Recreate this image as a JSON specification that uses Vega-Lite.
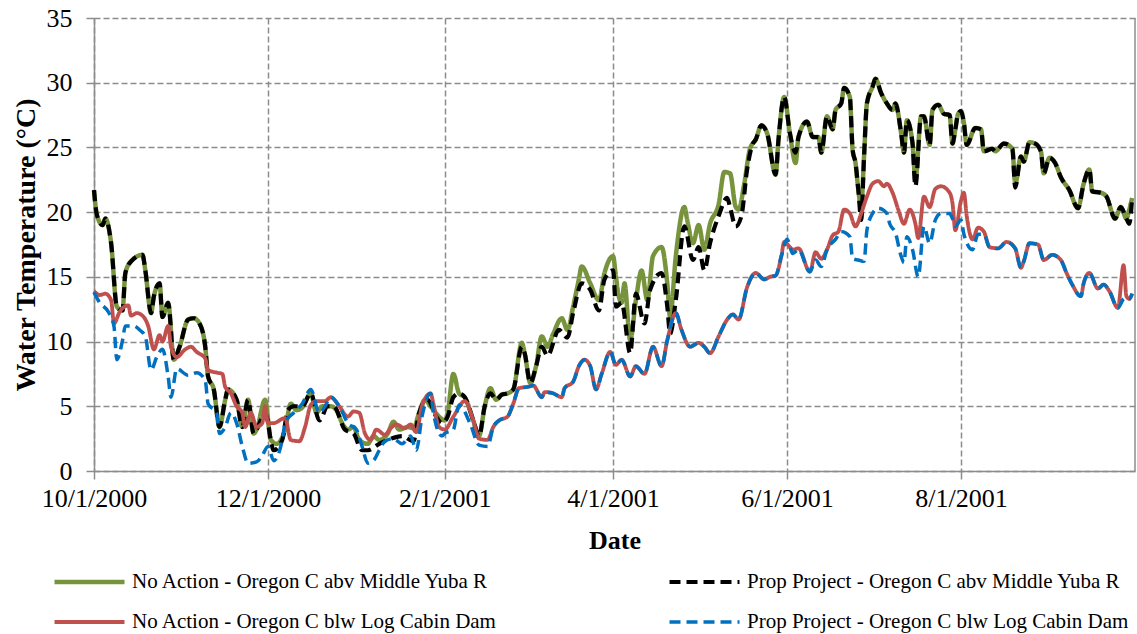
{
  "$schema": "https://vega.github.io/schema/vega-lite/v6.json",
  "width": 1041,
  "height": 453,
  "autosize": "none",
  "padding": {"left": 94, "top": 18, "right": 2, "bottom": 163},
  "background": "white",
  "config": {
    "view": {"stroke": null},
    "font": "Liberation Serif"
  },
  "layer": [
    {
      "data": {
        "values": [
          {"date":"2000-10-01","series":"A","temp":21.7},{"date":"2000-10-02","series":"A","temp":19.8},{"date":"2000-10-04","series":"A","temp":19.0},{"date":"2000-10-05","series":"A","temp":19.5},{"date":"2000-10-07","series":"A","temp":17.6},{"date":"2000-10-09","series":"A","temp":12.7},{"date":"2000-10-11","series":"A","temp":12.4},{"date":"2000-10-12","series":"A","temp":15.3},{"date":"2000-10-14","series":"A","temp":16.2},{"date":"2000-10-18","series":"A","temp":16.7},{"date":"2000-10-19","series":"A","temp":15.5},{"date":"2000-10-21","series":"A","temp":12.2},{"date":"2000-10-22","series":"A","temp":13.5},{"date":"2000-10-24","series":"A","temp":14.5},{"date":"2000-10-25","series":"A","temp":11.9},{"date":"2000-10-27","series":"A","temp":13.0},{"date":"2000-10-29","series":"A","temp":8.6},{"date":"2000-10-31","series":"A","temp":9.6},{"date":"2000-11-03","series":"A","temp":11.7},{"date":"2000-11-05","series":"A","temp":11.8},{"date":"2000-11-07","series":"A","temp":11.4},{"date":"2000-11-09","series":"A","temp":9.6},{"date":"2000-11-10","series":"A","temp":7.3},{"date":"2000-11-12","series":"A","temp":6.3},{"date":"2000-11-14","series":"A","temp":3.4},{"date":"2000-11-16","series":"A","temp":5.5},{"date":"2000-11-17","series":"A","temp":6.3},{"date":"2000-11-20","series":"A","temp":5.5},{"date":"2000-11-22","series":"A","temp":3.4},{"date":"2000-11-24","series":"A","temp":5.5},{"date":"2000-11-26","series":"A","temp":2.9},{"date":"2000-11-27","series":"A","temp":3.2},{"date":"2000-11-30","series":"A","temp":5.5},{"date":"2000-12-02","series":"A","temp":2.4},{"date":"2000-12-04","series":"A","temp":2.1},{"date":"2000-12-07","series":"A","temp":3.2},{"date":"2000-12-09","series":"A","temp":5.2},{"date":"2000-12-11","series":"A","temp":4.7},{"date":"2000-12-13","series":"A","temp":4.9},{"date":"2000-12-16","series":"A","temp":6.0},{"date":"2000-12-18","series":"A","temp":4.5},{"date":"2000-12-20","series":"A","temp":5.0},{"date":"2000-12-23","series":"A","temp":5.0},{"date":"2000-12-25","series":"A","temp":4.7},{"date":"2000-12-27","series":"A","temp":3.7},{"date":"2000-12-29","series":"A","temp":3.2},{"date":"2000-12-31","series":"A","temp":3.4},{"date":"2001-01-02","series":"A","temp":2.4},{"date":"2001-01-05","series":"A","temp":2.1},{"date":"2001-01-07","series":"A","temp":2.7},{"date":"2001-01-09","series":"A","temp":2.4},{"date":"2001-01-12","series":"A","temp":2.9},{"date":"2001-01-14","series":"A","temp":3.8},{"date":"2001-01-16","series":"A","temp":3.2},{"date":"2001-01-19","series":"A","temp":3.4},{"date":"2001-01-21","series":"A","temp":3.3},{"date":"2001-01-23","series":"A","temp":4.5},{"date":"2001-01-25","series":"A","temp":5.5},{"date":"2001-01-27","series":"A","temp":5.0},{"date":"2001-01-30","series":"A","temp":4.2},{"date":"2001-02-01","series":"A","temp":3.9},{"date":"2001-02-02","series":"A","temp":4.5},{"date":"2001-02-04","series":"A","temp":7.5},{"date":"2001-02-06","series":"A","temp":6.0},{"date":"2001-02-08","series":"A","temp":5.7},{"date":"2001-02-11","series":"A","temp":3.9},{"date":"2001-02-13","series":"A","temp":2.7},{"date":"2001-02-15","series":"A","temp":5.0},{"date":"2001-02-17","series":"A","temp":6.4},{"date":"2001-02-19","series":"A","temp":5.5},{"date":"2001-02-21","series":"A","temp":5.9},{"date":"2001-02-23","series":"A","temp":6.0},{"date":"2001-02-25","series":"A","temp":6.3},{"date":"2001-02-28","series":"A","temp":9.9},{"date":"2001-03-01","series":"A","temp":9.1},{"date":"2001-03-03","series":"A","temp":6.8},{"date":"2001-03-05","series":"A","temp":8.1},{"date":"2001-03-07","series":"A","temp":10.4},{"date":"2001-03-09","series":"A","temp":9.6},{"date":"2001-03-11","series":"A","temp":10.6},{"date":"2001-03-14","series":"A","temp":11.8},{"date":"2001-03-16","series":"A","temp":10.9},{"date":"2001-03-18","series":"A","temp":12.7},{"date":"2001-03-20","series":"A","temp":14.8},{"date":"2001-03-21","series":"A","temp":15.8},{"date":"2001-03-24","series":"A","temp":14.5},{"date":"2001-03-27","series":"A","temp":13.2},{"date":"2001-03-29","series":"A","temp":15.3},{"date":"2001-04-01","series":"A","temp":16.6},{"date":"2001-04-02","series":"A","temp":15.0},{"date":"2001-04-03","series":"A","temp":13.5},{"date":"2001-04-04","series":"A","temp":13.0},{"date":"2001-04-05","series":"A","temp":14.5},{"date":"2001-04-07","series":"A","temp":10.1},{"date":"2001-04-09","series":"A","temp":13.2},{"date":"2001-04-11","series":"A","temp":15.5},{"date":"2001-04-13","series":"A","temp":13.2},{"date":"2001-04-15","series":"A","temp":16.6},{"date":"2001-04-18","series":"A","temp":17.3},{"date":"2001-04-20","series":"A","temp":14.5},{"date":"2001-04-21","series":"A","temp":11.9},{"date":"2001-04-23","series":"A","temp":16.6},{"date":"2001-04-26","series":"A","temp":20.4},{"date":"2001-04-27","series":"A","temp":19.4},{"date":"2001-04-29","series":"A","temp":17.6},{"date":"2001-05-01","series":"A","temp":19.0},{"date":"2001-05-03","series":"A","temp":17.1},{"date":"2001-05-05","series":"A","temp":19.1},{"date":"2001-05-08","series":"A","temp":20.6},{"date":"2001-05-10","series":"A","temp":23.1},{"date":"2001-05-12","series":"A","temp":23.0},{"date":"2001-05-14","series":"A","temp":20.4},{"date":"2001-05-15","series":"A","temp":20.2},{"date":"2001-05-17","series":"A","temp":22.2},{"date":"2001-05-19","series":"A","temp":24.9},{"date":"2001-05-21","series":"A","temp":25.6},{"date":"2001-05-23","series":"A","temp":26.7},{"date":"2001-05-25","series":"A","temp":26.1},{"date":"2001-05-28","series":"A","temp":22.9},{"date":"2001-05-29","series":"A","temp":25.6},{"date":"2001-05-31","series":"A","temp":28.9},{"date":"2001-06-02","series":"A","temp":26.1},{"date":"2001-06-04","series":"A","temp":23.8},{"date":"2001-06-05","series":"A","temp":25.8},{"date":"2001-06-08","series":"A","temp":27.0},{"date":"2001-06-10","series":"A","temp":25.8},{"date":"2001-06-12","series":"A","temp":25.8},{"date":"2001-06-13","series":"A","temp":24.6},{"date":"2001-06-15","series":"A","temp":27.4},{"date":"2001-06-17","series":"A","temp":26.4},{"date":"2001-06-18","series":"A","temp":27.9},{"date":"2001-06-20","series":"A","temp":28.4},{"date":"2001-06-21","series":"A","temp":29.6},{"date":"2001-06-23","series":"A","temp":28.9},{"date":"2001-06-24","series":"A","temp":24.8},{"date":"2001-06-25","series":"A","temp":23.8},{"date":"2001-06-26","series":"A","temp":21.7},{"date":"2001-06-27","series":"A","temp":20.4},{"date":"2001-06-28","series":"A","temp":24.3},{"date":"2001-06-29","series":"A","temp":28.4},{"date":"2001-07-01","series":"A","temp":29.7},{"date":"2001-07-02","series":"A","temp":30.3},{"date":"2001-07-04","series":"A","temp":29.2},{"date":"2001-07-06","series":"A","temp":28.4},{"date":"2001-07-08","series":"A","temp":27.9},{"date":"2001-07-09","series":"A","temp":28.4},{"date":"2001-07-11","series":"A","temp":26.1},{"date":"2001-07-12","series":"A","temp":24.6},{"date":"2001-07-13","series":"A","temp":27.1},{"date":"2001-07-15","series":"A","temp":25.3},{"date":"2001-07-16","series":"A","temp":22.5},{"date":"2001-07-18","series":"A","temp":27.4},{"date":"2001-07-19","series":"A","temp":27.4},{"date":"2001-07-21","series":"A","temp":25.2},{"date":"2001-07-22","series":"A","temp":27.9},{"date":"2001-07-24","series":"A","temp":28.3},{"date":"2001-07-26","series":"A","temp":27.6},{"date":"2001-07-28","series":"A","temp":27.5},{"date":"2001-07-29","series":"A","temp":25.3},{"date":"2001-07-30","series":"A","temp":26.4},{"date":"2001-07-31","series":"A","temp":27.6},{"date":"2001-08-01","series":"A","temp":27.8},{"date":"2001-08-02","series":"A","temp":26.9},{"date":"2001-08-03","series":"A","temp":25.2},{"date":"2001-08-06","series":"A","temp":26.5},{"date":"2001-08-08","series":"A","temp":26.4},{"date":"2001-08-09","series":"A","temp":24.7},{"date":"2001-08-12","series":"A","temp":24.9},{"date":"2001-08-13","series":"A","temp":24.7},{"date":"2001-08-16","series":"A","temp":25.3},{"date":"2001-08-19","series":"A","temp":24.9},{"date":"2001-08-20","series":"A","temp":22.2},{"date":"2001-08-22","series":"A","temp":24.3},{"date":"2001-08-23","series":"A","temp":23.9},{"date":"2001-08-25","series":"A","temp":25.4},{"date":"2001-08-27","series":"A","temp":25.3},{"date":"2001-08-29","series":"A","temp":24.7},{"date":"2001-08-30","series":"A","temp":23.0},{"date":"2001-09-01","series":"A","temp":24.2},{"date":"2001-09-03","series":"A","temp":23.8},{"date":"2001-09-05","series":"A","temp":22.7},{"date":"2001-09-08","series":"A","temp":21.7},{"date":"2001-09-11","series":"A","temp":20.3},{"date":"2001-09-13","series":"A","temp":22.2},{"date":"2001-09-15","series":"A","temp":23.3},{"date":"2001-09-16","series":"A","temp":21.6},{"date":"2001-09-19","series":"A","temp":21.5},{"date":"2001-09-21","series":"A","temp":21.2},{"date":"2001-09-24","series":"A","temp":19.5},{"date":"2001-09-26","series":"A","temp":20.4},{"date":"2001-09-28","series":"A","temp":19.5},{"date":"2001-09-29","series":"A","temp":20.2},{"date":"2001-09-30","series":"A","temp":21.1},

          {"date":"2000-10-01","series":"B","temp":21.7},{"date":"2000-10-02","series":"B","temp":19.8},{"date":"2000-10-04","series":"B","temp":19.0},{"date":"2000-10-05","series":"B","temp":19.5},{"date":"2000-10-07","series":"B","temp":17.6},{"date":"2000-10-09","series":"B","temp":12.7},{"date":"2000-10-11","series":"B","temp":12.4},{"date":"2000-10-12","series":"B","temp":15.3},{"date":"2000-10-14","series":"B","temp":16.2},{"date":"2000-10-18","series":"B","temp":16.7},{"date":"2000-10-19","series":"B","temp":15.5},{"date":"2000-10-21","series":"B","temp":12.2},{"date":"2000-10-22","series":"B","temp":13.5},{"date":"2000-10-24","series":"B","temp":14.5},{"date":"2000-10-25","series":"B","temp":11.9},{"date":"2000-10-27","series":"B","temp":13.0},{"date":"2000-10-29","series":"B","temp":8.6},{"date":"2000-10-31","series":"B","temp":9.6},{"date":"2000-11-03","series":"B","temp":11.7},{"date":"2000-11-05","series":"B","temp":11.8},{"date":"2000-11-07","series":"B","temp":11.4},{"date":"2000-11-09","series":"B","temp":9.6},{"date":"2000-11-10","series":"B","temp":7.3},{"date":"2000-11-12","series":"B","temp":6.3},{"date":"2000-11-14","series":"B","temp":3.4},{"date":"2000-11-16","series":"B","temp":5.5},{"date":"2000-11-17","series":"B","temp":6.3},{"date":"2000-11-20","series":"B","temp":5.5},{"date":"2000-11-22","series":"B","temp":3.4},{"date":"2000-11-24","series":"B","temp":5.5},{"date":"2000-11-26","series":"B","temp":2.9},{"date":"2000-11-27","series":"B","temp":3.2},{"date":"2000-11-30","series":"B","temp":4.5},{"date":"2000-12-03","series":"B","temp":1.6},{"date":"2000-12-06","series":"B","temp":2.4},{"date":"2000-12-08","series":"B","temp":4.7},{"date":"2000-12-10","series":"B","temp":5.0},{"date":"2000-12-13","series":"B","temp":5.0},{"date":"2000-12-16","series":"B","temp":6.0},{"date":"2000-12-19","series":"B","temp":3.9},{"date":"2000-12-22","series":"B","temp":5.0},{"date":"2000-12-24","series":"B","temp":5.0},{"date":"2000-12-28","series":"B","temp":3.2},{"date":"2000-12-31","series":"B","temp":2.9},{"date":"2001-01-03","series":"B","temp":1.6},{"date":"2001-01-05","series":"B","temp":1.6},{"date":"2001-01-09","series":"B","temp":2.1},{"date":"2001-01-12","series":"B","temp":2.4},{"date":"2001-01-17","series":"B","temp":2.7},{"date":"2001-01-21","series":"B","temp":2.3},{"date":"2001-01-23","series":"B","temp":4.5},{"date":"2001-01-26","series":"B","temp":5.5},{"date":"2001-01-29","series":"B","temp":4.2},{"date":"2001-01-31","series":"B","temp":3.7},{"date":"2001-02-02","series":"B","temp":4.2},{"date":"2001-02-04","series":"B","temp":5.7},{"date":"2001-02-06","series":"B","temp":6.0},{"date":"2001-02-08","series":"B","temp":5.7},{"date":"2001-02-11","series":"B","temp":3.9},{"date":"2001-02-13","series":"B","temp":2.7},{"date":"2001-02-15","series":"B","temp":5.0},{"date":"2001-02-17","series":"B","temp":6.0},{"date":"2001-02-19","series":"B","temp":5.5},{"date":"2001-02-21","series":"B","temp":5.9},{"date":"2001-02-23","series":"B","temp":6.0},{"date":"2001-02-25","series":"B","temp":6.3},{"date":"2001-02-28","series":"B","temp":9.6},{"date":"2001-03-01","series":"B","temp":9.1},{"date":"2001-03-03","series":"B","temp":6.8},{"date":"2001-03-05","series":"B","temp":8.1},{"date":"2001-03-07","series":"B","temp":9.6},{"date":"2001-03-09","series":"B","temp":8.9},{"date":"2001-03-13","series":"B","temp":10.9},{"date":"2001-03-16","series":"B","temp":10.3},{"date":"2001-03-18","series":"B","temp":12.2},{"date":"2001-03-21","series":"B","temp":14.5},{"date":"2001-03-24","series":"B","temp":14.0},{"date":"2001-03-27","series":"B","temp":12.4},{"date":"2001-03-29","series":"B","temp":14.8},{"date":"2001-04-01","series":"B","temp":15.5},{"date":"2001-04-02","series":"B","temp":12.7},{"date":"2001-04-04","series":"B","temp":13.0},{"date":"2001-04-07","series":"B","temp":9.1},{"date":"2001-04-09","series":"B","temp":13.7},{"date":"2001-04-12","series":"B","temp":11.4},{"date":"2001-04-14","series":"B","temp":14.0},{"date":"2001-04-18","series":"B","temp":15.3},{"date":"2001-04-20","series":"B","temp":12.7},{"date":"2001-04-21","series":"B","temp":10.6},{"date":"2001-04-23","series":"B","temp":13.2},{"date":"2001-04-26","series":"B","temp":18.9},{"date":"2001-04-29","series":"B","temp":16.3},{"date":"2001-05-01","series":"B","temp":17.3},{"date":"2001-05-03","series":"B","temp":15.5},{"date":"2001-05-05","series":"B","temp":17.6},{"date":"2001-05-08","series":"B","temp":19.7},{"date":"2001-05-11","series":"B","temp":21.1},{"date":"2001-05-12","series":"B","temp":20.4},{"date":"2001-05-14","series":"B","temp":18.9},{"date":"2001-05-16","series":"B","temp":19.7},{"date":"2001-05-18","series":"B","temp":23.3},{"date":"2001-05-20","series":"B","temp":25.3},{"date":"2001-05-21","series":"B","temp":25.6},{"date":"2001-05-23","series":"B","temp":26.7},{"date":"2001-05-25","series":"B","temp":26.1},{"date":"2001-05-28","series":"B","temp":22.9},{"date":"2001-05-29","series":"B","temp":25.6},{"date":"2001-05-31","series":"B","temp":28.9},{"date":"2001-06-02","series":"B","temp":26.1},{"date":"2001-06-04","series":"B","temp":24.6},{"date":"2001-06-05","series":"B","temp":25.8},{"date":"2001-06-08","series":"B","temp":27.0},{"date":"2001-06-10","series":"B","temp":25.8},{"date":"2001-06-12","series":"B","temp":25.8},{"date":"2001-06-13","series":"B","temp":24.6},{"date":"2001-06-15","series":"B","temp":27.4},{"date":"2001-06-17","series":"B","temp":26.4},{"date":"2001-06-18","series":"B","temp":27.9},{"date":"2001-06-20","series":"B","temp":28.4},{"date":"2001-06-21","series":"B","temp":29.6},{"date":"2001-06-23","series":"B","temp":28.9},{"date":"2001-06-24","series":"B","temp":24.8},{"date":"2001-06-25","series":"B","temp":23.8},{"date":"2001-06-26","series":"B","temp":21.7},{"date":"2001-06-27","series":"B","temp":19.4},{"date":"2001-06-28","series":"B","temp":24.3},{"date":"2001-06-29","series":"B","temp":28.4},{"date":"2001-07-01","series":"B","temp":29.7},{"date":"2001-07-02","series":"B","temp":30.3},{"date":"2001-07-04","series":"B","temp":29.2},{"date":"2001-07-06","series":"B","temp":28.4},{"date":"2001-07-08","series":"B","temp":27.9},{"date":"2001-07-09","series":"B","temp":28.4},{"date":"2001-07-11","series":"B","temp":26.1},{"date":"2001-07-12","series":"B","temp":24.6},{"date":"2001-07-13","series":"B","temp":27.1},{"date":"2001-07-15","series":"B","temp":25.3},{"date":"2001-07-16","series":"B","temp":22.0},{"date":"2001-07-18","series":"B","temp":27.4},{"date":"2001-07-19","series":"B","temp":27.4},{"date":"2001-07-21","series":"B","temp":25.2},{"date":"2001-07-22","series":"B","temp":27.9},{"date":"2001-07-24","series":"B","temp":28.3},{"date":"2001-07-26","series":"B","temp":27.6},{"date":"2001-07-28","series":"B","temp":27.5},{"date":"2001-07-29","series":"B","temp":25.3},{"date":"2001-07-30","series":"B","temp":26.4},{"date":"2001-07-31","series":"B","temp":27.6},{"date":"2001-08-01","series":"B","temp":27.8},{"date":"2001-08-02","series":"B","temp":26.9},{"date":"2001-08-03","series":"B","temp":25.2},{"date":"2001-08-06","series":"B","temp":26.5},{"date":"2001-08-08","series":"B","temp":26.4},{"date":"2001-08-09","series":"B","temp":24.7},{"date":"2001-08-12","series":"B","temp":24.9},{"date":"2001-08-13","series":"B","temp":24.7},{"date":"2001-08-16","series":"B","temp":25.3},{"date":"2001-08-19","series":"B","temp":24.9},{"date":"2001-08-20","series":"B","temp":21.9},{"date":"2001-08-22","series":"B","temp":24.3},{"date":"2001-08-23","series":"B","temp":23.9},{"date":"2001-08-25","series":"B","temp":25.4},{"date":"2001-08-27","series":"B","temp":25.3},{"date":"2001-08-29","series":"B","temp":24.7},{"date":"2001-08-30","series":"B","temp":23.0},{"date":"2001-09-01","series":"B","temp":24.2},{"date":"2001-09-03","series":"B","temp":23.8},{"date":"2001-09-05","series":"B","temp":22.7},{"date":"2001-09-08","series":"B","temp":21.7},{"date":"2001-09-11","series":"B","temp":20.3},{"date":"2001-09-13","series":"B","temp":22.2},{"date":"2001-09-15","series":"B","temp":23.3},{"date":"2001-09-16","series":"B","temp":21.6},{"date":"2001-09-19","series":"B","temp":21.5},{"date":"2001-09-21","series":"B","temp":21.2},{"date":"2001-09-24","series":"B","temp":19.5},{"date":"2001-09-26","series":"B","temp":20.4},{"date":"2001-09-28","series":"B","temp":19.5},{"date":"2001-09-29","series":"B","temp":19.1},{"date":"2001-09-30","series":"B","temp":21.1},

          {"date":"2000-10-01","series":"C","temp":13.9},{"date":"2000-10-03","series":"C","temp":13.6},{"date":"2000-10-05","series":"C","temp":13.7},{"date":"2000-10-07","series":"C","temp":13.2},{"date":"2000-10-08","series":"C","temp":11.4},{"date":"2000-10-10","series":"C","temp":12.3},{"date":"2000-10-13","series":"C","temp":12.8},{"date":"2000-10-14","series":"C","temp":12.0},{"date":"2000-10-16","series":"C","temp":12.2},{"date":"2000-10-18","series":"C","temp":12.0},{"date":"2000-10-20","series":"C","temp":11.2},{"date":"2000-10-22","series":"C","temp":9.4},{"date":"2000-10-24","series":"C","temp":10.5},{"date":"2000-10-25","series":"C","temp":10.0},{"date":"2000-10-27","series":"C","temp":11.2},{"date":"2000-10-28","series":"C","temp":9.6},{"date":"2000-10-30","series":"C","temp":8.8},{"date":"2000-11-02","series":"C","temp":9.4},{"date":"2000-11-04","series":"C","temp":9.6},{"date":"2000-11-06","series":"C","temp":9.2},{"date":"2000-11-09","series":"C","temp":8.7},{"date":"2000-11-10","series":"C","temp":7.8},{"date":"2000-11-13","series":"C","temp":7.6},{"date":"2000-11-15","series":"C","temp":7.5},{"date":"2000-11-16","series":"C","temp":6.5},{"date":"2000-11-18","series":"C","temp":6.0},{"date":"2000-11-20","series":"C","temp":5.0},{"date":"2000-11-22","series":"C","temp":4.5},{"date":"2000-11-23","series":"C","temp":3.4},{"date":"2000-11-25","series":"C","temp":4.5},{"date":"2000-11-27","series":"C","temp":3.4},{"date":"2000-11-29","series":"C","temp":3.7},{"date":"2000-11-30","series":"C","temp":5.0},{"date":"2000-12-01","series":"C","temp":3.7},{"date":"2000-12-03","series":"C","temp":3.7},{"date":"2000-12-07","series":"C","temp":4.1},{"date":"2000-12-09","series":"C","temp":2.4},{"date":"2000-12-12","series":"C","temp":2.3},{"date":"2000-12-14","series":"C","temp":3.4},{"date":"2000-12-16","series":"C","temp":5.1},{"date":"2000-12-18","series":"C","temp":5.4},{"date":"2000-12-21","series":"C","temp":5.4},{"date":"2000-12-23","series":"C","temp":5.7},{"date":"2000-12-26","series":"C","temp":5.0},{"date":"2000-12-29","series":"C","temp":4.2},{"date":"2000-12-31","series":"C","temp":4.6},{"date":"2001-01-02","series":"C","temp":4.5},{"date":"2001-01-04","series":"C","temp":2.9},{"date":"2001-01-06","series":"C","temp":2.4},{"date":"2001-01-08","series":"C","temp":3.2},{"date":"2001-01-11","series":"C","temp":2.8},{"date":"2001-01-13","series":"C","temp":3.3},{"date":"2001-01-15","series":"C","temp":3.6},{"date":"2001-01-18","series":"C","temp":3.3},{"date":"2001-01-20","series":"C","temp":3.6},{"date":"2001-01-22","series":"C","temp":3.0},{"date":"2001-01-24","series":"C","temp":5.0},{"date":"2001-01-27","series":"C","temp":6.0},{"date":"2001-01-28","series":"C","temp":5.2},{"date":"2001-01-30","series":"C","temp":3.4},{"date":"2001-02-01","series":"C","temp":3.2},{"date":"2001-02-04","series":"C","temp":4.2},{"date":"2001-02-08","series":"C","temp":5.4},{"date":"2001-02-11","series":"C","temp":3.9},{"date":"2001-02-13","series":"C","temp":2.5},{"date":"2001-02-16","series":"C","temp":2.4},{"date":"2001-02-18","series":"C","temp":3.4},{"date":"2001-02-20","series":"C","temp":3.9},{"date":"2001-02-23","series":"C","temp":4.2},{"date":"2001-02-25","series":"C","temp":5.2},{"date":"2001-02-27","series":"C","temp":6.4},{"date":"2001-03-02","series":"C","temp":6.5},{"date":"2001-03-04","series":"C","temp":6.6},{"date":"2001-03-07","series":"C","temp":5.7},{"date":"2001-03-08","series":"C","temp":6.1},{"date":"2001-03-11","series":"C","temp":6.0},{"date":"2001-03-14","series":"C","temp":5.7},{"date":"2001-03-15","series":"C","temp":6.4},{"date":"2001-03-18","series":"C","temp":6.9},{"date":"2001-03-20","series":"C","temp":8.1},{"date":"2001-03-22","series":"C","temp":8.6},{"date":"2001-03-24","series":"C","temp":8.1},{"date":"2001-03-26","series":"C","temp":6.3},{"date":"2001-03-28","series":"C","temp":7.5},{"date":"2001-03-31","series":"C","temp":9.2},{"date":"2001-04-02","series":"C","temp":8.2},{"date":"2001-04-04","series":"C","temp":8.6},{"date":"2001-04-07","series":"C","temp":7.3},{"date":"2001-04-09","series":"C","temp":8.1},{"date":"2001-04-12","series":"C","temp":7.5},{"date":"2001-04-15","series":"C","temp":9.6},{"date":"2001-04-18","series":"C","temp":8.1},{"date":"2001-04-20","series":"C","temp":10.1},{"date":"2001-04-23","series":"C","temp":12.2},{"date":"2001-04-25","series":"C","temp":10.9},{"date":"2001-04-28","series":"C","temp":9.6},{"date":"2001-05-01","series":"C","temp":9.9},{"date":"2001-05-03","series":"C","temp":9.6},{"date":"2001-05-05","series":"C","temp":9.1},{"date":"2001-05-08","series":"C","temp":10.4},{"date":"2001-05-11","series":"C","temp":11.7},{"date":"2001-05-13","series":"C","temp":12.1},{"date":"2001-05-15","series":"C","temp":11.7},{"date":"2001-05-18","series":"C","temp":14.2},{"date":"2001-05-21","series":"C","temp":15.3},{"date":"2001-05-24","series":"C","temp":14.8},{"date":"2001-05-26","series":"C","temp":15.0},{"date":"2001-05-28","series":"C","temp":15.1},{"date":"2001-05-30","series":"C","temp":16.6},{"date":"2001-05-31","series":"C","temp":17.7},{"date":"2001-06-02","series":"C","temp":17.3},{"date":"2001-06-03","series":"C","temp":17.1},{"date":"2001-06-05","series":"C","temp":17.2},{"date":"2001-06-09","series":"C","temp":15.4},{"date":"2001-06-11","series":"C","temp":16.9},{"date":"2001-06-13","series":"C","temp":16.4},{"date":"2001-06-15","series":"C","temp":17.1},{"date":"2001-06-17","series":"C","temp":18.2},{"date":"2001-06-19","series":"C","temp":18.5},{"date":"2001-06-21","series":"C","temp":20.2},{"date":"2001-06-23","series":"C","temp":19.9},{"date":"2001-06-25","series":"C","temp":18.9},{"date":"2001-06-27","series":"C","temp":19.9},{"date":"2001-06-29","series":"C","temp":21.2},{"date":"2001-07-01","series":"C","temp":22.2},{"date":"2001-07-03","series":"C","temp":22.4},{"date":"2001-07-05","series":"C","temp":22.0},{"date":"2001-07-06","series":"C","temp":22.2},{"date":"2001-07-08","series":"C","temp":21.5},{"date":"2001-07-10","series":"C","temp":20.2},{"date":"2001-07-12","series":"C","temp":19.1},{"date":"2001-07-14","series":"C","temp":20.2},{"date":"2001-07-16","series":"C","temp":19.1},{"date":"2001-07-17","series":"C","temp":18.0},{"date":"2001-07-19","series":"C","temp":21.2},{"date":"2001-07-21","series":"C","temp":20.4},{"date":"2001-07-23","series":"C","temp":21.8},{"date":"2001-07-25","series":"C","temp":22.0},{"date":"2001-07-28","series":"C","temp":21.5},{"date":"2001-07-29","series":"C","temp":20.7},{"date":"2001-07-30","series":"C","temp":18.6},{"date":"2001-08-01","series":"C","temp":20.9},{"date":"2001-08-02","series":"C","temp":21.5},{"date":"2001-08-03","series":"C","temp":19.7},{"date":"2001-08-05","series":"C","temp":17.9},{"date":"2001-08-07","series":"C","temp":18.8},{"date":"2001-08-09","series":"C","temp":18.5},{"date":"2001-08-11","series":"C","temp":17.3},{"date":"2001-08-14","series":"C","temp":17.2},{"date":"2001-08-17","series":"C","temp":17.7},{"date":"2001-08-20","series":"C","temp":17.2},{"date":"2001-08-22","series":"C","temp":15.7},{"date":"2001-08-23","series":"C","temp":16.2},{"date":"2001-08-25","series":"C","temp":17.6},{"date":"2001-08-28","series":"C","temp":17.5},{"date":"2001-08-30","series":"C","temp":16.3},{"date":"2001-09-02","series":"C","temp":16.7},{"date":"2001-09-05","series":"C","temp":16.3},{"date":"2001-09-07","series":"C","temp":15.3},{"date":"2001-09-09","series":"C","temp":14.4},{"date":"2001-09-12","series":"C","temp":13.5},{"date":"2001-09-13","series":"C","temp":14.5},{"date":"2001-09-15","series":"C","temp":15.3},{"date":"2001-09-18","series":"C","temp":14.1},{"date":"2001-09-20","series":"C","temp":14.4},{"date":"2001-09-22","series":"C","temp":13.9},{"date":"2001-09-25","series":"C","temp":12.6},{"date":"2001-09-27","series":"C","temp":15.9},{"date":"2001-09-28","series":"C","temp":13.5},{"date":"2001-09-29","series":"C","temp":13.3},{"date":"2001-09-30","series":"C","temp":13.7},

          {"date":"2000-10-01","series":"D","temp":13.8},{"date":"2000-10-03","series":"D","temp":13.0},{"date":"2000-10-06","series":"D","temp":12.3},{"date":"2000-10-08","series":"D","temp":11.2},{"date":"2000-10-09","series":"D","temp":8.6},{"date":"2000-10-11","series":"D","temp":10.1},{"date":"2000-10-12","series":"D","temp":11.2},{"date":"2000-10-15","series":"D","temp":11.2},{"date":"2000-10-17","series":"D","temp":10.9},{"date":"2000-10-19","series":"D","temp":10.4},{"date":"2000-10-21","series":"D","temp":7.8},{"date":"2000-10-23","series":"D","temp":8.8},{"date":"2000-10-25","series":"D","temp":9.4},{"date":"2000-10-27","series":"D","temp":7.3},{"date":"2000-10-28","series":"D","temp":5.7},{"date":"2000-10-30","series":"D","temp":7.9},{"date":"2000-11-03","series":"D","temp":7.4},{"date":"2000-11-06","series":"D","temp":7.6},{"date":"2000-11-09","series":"D","temp":7.0},{"date":"2000-11-10","series":"D","temp":5.2},{"date":"2000-11-13","series":"D","temp":4.5},{"date":"2000-11-14","series":"D","temp":2.9},{"date":"2000-11-16","series":"D","temp":3.4},{"date":"2000-11-18","series":"D","temp":4.5},{"date":"2000-11-20","series":"D","temp":3.7},{"date":"2000-11-22","series":"D","temp":1.9},{"date":"2000-11-24","series":"D","temp":0.6},{"date":"2000-11-27","series":"D","temp":0.7},{"date":"2000-11-29","series":"D","temp":1.2},{"date":"2000-12-01","series":"D","temp":1.9},{"date":"2000-12-03","series":"D","temp":0.8},{"date":"2000-12-06","series":"D","temp":2.4},{"date":"2000-12-07","series":"D","temp":3.7},{"date":"2000-12-10","series":"D","temp":4.5},{"date":"2000-12-13","series":"D","temp":5.2},{"date":"2000-12-16","series":"D","temp":6.3},{"date":"2000-12-19","series":"D","temp":4.5},{"date":"2000-12-21","series":"D","temp":5.0},{"date":"2000-12-23","series":"D","temp":5.7},{"date":"2000-12-26","series":"D","temp":5.0},{"date":"2000-12-29","series":"D","temp":3.7},{"date":"2001-01-01","series":"D","temp":3.2},{"date":"2001-01-03","series":"D","temp":1.9},{"date":"2001-01-05","series":"D","temp":0.6},{"date":"2001-01-07","series":"D","temp":0.8},{"date":"2001-01-09","series":"D","temp":1.6},{"date":"2001-01-11","series":"D","temp":2.3},{"date":"2001-01-14","series":"D","temp":2.5},{"date":"2001-01-17","series":"D","temp":2.1},{"date":"2001-01-20","series":"D","temp":2.7},{"date":"2001-01-22","series":"D","temp":1.6},{"date":"2001-01-24","series":"D","temp":4.2},{"date":"2001-01-27","series":"D","temp":6.0},{"date":"2001-01-28","series":"D","temp":4.5},{"date":"2001-01-31","series":"D","temp":2.7},{"date":"2001-02-01","series":"D","temp":2.9},{"date":"2001-02-04","series":"D","temp":3.2},{"date":"2001-02-06","series":"D","temp":5.1},{"date":"2001-02-10","series":"D","temp":3.6},{"date":"2001-02-13","series":"D","temp":2.0},{"date":"2001-02-16","series":"D","temp":1.9},{"date":"2001-02-18","series":"D","temp":3.4},{"date":"2001-02-20","series":"D","temp":3.9},{"date":"2001-02-23","series":"D","temp":4.2},{"date":"2001-02-25","series":"D","temp":5.2},{"date":"2001-02-27","series":"D","temp":6.4},{"date":"2001-03-02","series":"D","temp":6.5},{"date":"2001-03-04","series":"D","temp":6.6},{"date":"2001-03-07","series":"D","temp":5.7},{"date":"2001-03-08","series":"D","temp":6.1},{"date":"2001-03-11","series":"D","temp":6.0},{"date":"2001-03-14","series":"D","temp":5.7},{"date":"2001-03-15","series":"D","temp":6.4},{"date":"2001-03-18","series":"D","temp":6.9},{"date":"2001-03-20","series":"D","temp":8.1},{"date":"2001-03-22","series":"D","temp":8.6},{"date":"2001-03-24","series":"D","temp":8.1},{"date":"2001-03-26","series":"D","temp":6.3},{"date":"2001-03-28","series":"D","temp":7.5},{"date":"2001-03-31","series":"D","temp":9.2},{"date":"2001-04-02","series":"D","temp":8.2},{"date":"2001-04-04","series":"D","temp":8.6},{"date":"2001-04-07","series":"D","temp":7.3},{"date":"2001-04-09","series":"D","temp":8.1},{"date":"2001-04-12","series":"D","temp":7.5},{"date":"2001-04-15","series":"D","temp":9.6},{"date":"2001-04-18","series":"D","temp":8.1},{"date":"2001-04-20","series":"D","temp":10.1},{"date":"2001-04-23","series":"D","temp":12.2},{"date":"2001-04-25","series":"D","temp":10.9},{"date":"2001-04-28","series":"D","temp":9.6},{"date":"2001-05-01","series":"D","temp":9.9},{"date":"2001-05-03","series":"D","temp":9.6},{"date":"2001-05-05","series":"D","temp":9.1},{"date":"2001-05-08","series":"D","temp":10.4},{"date":"2001-05-11","series":"D","temp":11.7},{"date":"2001-05-13","series":"D","temp":12.1},{"date":"2001-05-15","series":"D","temp":11.7},{"date":"2001-05-18","series":"D","temp":14.2},{"date":"2001-05-21","series":"D","temp":15.3},{"date":"2001-05-24","series":"D","temp":14.8},{"date":"2001-05-26","series":"D","temp":15.0},{"date":"2001-05-28","series":"D","temp":15.1},{"date":"2001-05-30","series":"D","temp":16.6},{"date":"2001-06-01","series":"D","temp":17.9},{"date":"2001-06-03","series":"D","temp":16.8},{"date":"2001-06-05","series":"D","temp":17.1},{"date":"2001-06-09","series":"D","temp":15.4},{"date":"2001-06-11","series":"D","temp":16.3},{"date":"2001-06-13","series":"D","temp":15.8},{"date":"2001-06-15","series":"D","temp":17.1},{"date":"2001-06-18","series":"D","temp":17.9},{"date":"2001-06-20","series":"D","temp":18.5},{"date":"2001-06-23","series":"D","temp":18.1},{"date":"2001-06-24","series":"D","temp":16.4},{"date":"2001-06-26","series":"D","temp":16.3},{"date":"2001-06-28","series":"D","temp":16.2},{"date":"2001-06-29","series":"D","temp":18.6},{"date":"2001-07-01","series":"D","temp":19.9},{"date":"2001-07-03","series":"D","temp":20.3},{"date":"2001-07-06","series":"D","temp":19.9},{"date":"2001-07-07","series":"D","temp":19.1},{"date":"2001-07-09","series":"D","temp":18.4},{"date":"2001-07-11","series":"D","temp":16.6},{"date":"2001-07-12","series":"D","temp":16.1},{"date":"2001-07-13","series":"D","temp":18.1},{"date":"2001-07-15","series":"D","temp":17.1},{"date":"2001-07-17","series":"D","temp":15.0},{"date":"2001-07-19","series":"D","temp":18.9},{"date":"2001-07-21","series":"D","temp":17.6},{"date":"2001-07-23","series":"D","temp":19.4},{"date":"2001-07-25","series":"D","temp":19.9},{"date":"2001-07-28","series":"D","temp":19.9},{"date":"2001-07-29","series":"D","temp":19.5},{"date":"2001-07-30","series":"D","temp":18.9},{"date":"2001-08-01","series":"D","temp":19.4},{"date":"2001-08-02","series":"D","temp":18.3},{"date":"2001-08-05","series":"D","temp":17.1},{"date":"2001-08-07","series":"D","temp":18.3},{"date":"2001-08-09","series":"D","temp":18.3},{"date":"2001-08-11","series":"D","temp":17.3},{"date":"2001-08-14","series":"D","temp":17.2},{"date":"2001-08-17","series":"D","temp":17.7},{"date":"2001-08-20","series":"D","temp":17.2},{"date":"2001-08-22","series":"D","temp":15.7},{"date":"2001-08-23","series":"D","temp":16.2},{"date":"2001-08-25","series":"D","temp":17.6},{"date":"2001-08-28","series":"D","temp":17.5},{"date":"2001-08-30","series":"D","temp":16.3},{"date":"2001-09-02","series":"D","temp":16.7},{"date":"2001-09-05","series":"D","temp":16.3},{"date":"2001-09-07","series":"D","temp":15.3},{"date":"2001-09-09","series":"D","temp":14.4},{"date":"2001-09-12","series":"D","temp":13.5},{"date":"2001-09-13","series":"D","temp":14.5},{"date":"2001-09-15","series":"D","temp":15.3},{"date":"2001-09-18","series":"D","temp":14.1},{"date":"2001-09-20","series":"D","temp":14.4},{"date":"2001-09-22","series":"D","temp":13.9},{"date":"2001-09-25","series":"D","temp":12.6},{"date":"2001-09-27","series":"D","temp":13.3},{"date":"2001-09-28","series":"D","temp":13.4},{"date":"2001-09-29","series":"D","temp":13.3},{"date":"2001-09-30","series":"D","temp":13.7}
        ]
      },
      "mark": {"type": "line", "interpolate": "monotone", "strokeCap": "butt"},
      "encoding": {
        "x": {
          "field": "date", "type": "temporal", "title": "Date",
          "scale": {"type": "utc", "domain": [{"year": 2000, "month": 10, "date": 1, "utc": true}, {"year": 2001, "month": 10, "date": 1, "utc": true}]},
          "axis": {
            "values": [
              {"year": 2000, "month": 10, "date": 1, "utc": true},
              {"year": 2000, "month": 12, "date": 1, "utc": true},
              {"year": 2001, "month": 2, "date": 1, "utc": true},
              {"year": 2001, "month": 4, "date": 1, "utc": true},
              {"year": 2001, "month": 6, "date": 1, "utc": true},
              {"year": 2001, "month": 8, "date": 1, "utc": true}
            ],
            "labelExpr": "utcFormat(datum.value, '%-m/%-d/%Y')",
            "labelFont": "Liberation Serif", "labelFontSize": 26, "labelColor": "#000000",
            "labelPadding": 6, "labelOverlap": false, "labelFlush": false,
            "titleFont": "Liberation Serif", "titleFontSize": 26, "titleFontWeight": "bold", "titleColor": "#000000", "titlePadding": 16,
            "domainColor": "#8c8c8c", "domainWidth": 1.5,
            "tickColor": "#8c8c8c", "tickWidth": 1.5, "tickSize": 8,
            "grid": true, "gridColor": "#8c8c8c", "gridDash": [6, 3], "gridWidth": 1.5
          }
        },
        "y": {
          "field": "temp", "type": "quantitative", "title": "Water Temperature (°C)",
          "scale": {"domain": [0, 35], "nice": false},
          "axis": {
            "values": [0, 5, 10, 15, 20, 25, 30, 35],
            "labelFont": "Liberation Serif", "labelFontSize": 26, "labelColor": "#000000",
            "labelPadding": 14,
            "titleFont": "Liberation Serif", "titleFontSize": 28, "titleFontWeight": "bold", "titleColor": "#000000", "titlePadding": 6,
            "domainColor": "#8c8c8c", "domainWidth": 1.5,
            "tickColor": "#8c8c8c", "tickWidth": 1.5, "tickSize": 8,
            "grid": true, "gridColor": "#8c8c8c", "gridDash": [6, 3], "gridWidth": 1.5
          }
        },
        "color": {
          "field": "series", "type": "nominal",
          "scale": {"domain": ["A", "B", "C", "D"], "range": ["#77933c", "#000000", "#c0504d", "#0070c0"]},
          "legend": {
            "title": null, "orient": "none", "legendX": -42, "legendY": 551,
            "direction": "horizontal", "columns": 2, "columnPadding": 169, "rowPadding": 14,
            "clipHeight": 26,
            "symbolType": "stroke", "symbolSize": 4900, "symbolStrokeWidth": 4,
            "labelFont": "Liberation Serif", "labelFontSize": 21, "labelColor": "#000000", "labelOffset": 5, "labelLimit": 0,
            "labelExpr": "datum.label == 'A' ? 'No Action - Oregon C abv Middle Yuba R' : datum.label == 'B' ? 'Prop Project - Oregon C abv Middle Yuba R' : datum.label == 'C' ? 'No Action - Oregon C blw Log Cabin Dam' : 'Prop Project - Oregon C blw Log Cabin Dam'"
          }
        },
        "strokeDash": {
          "field": "series", "type": "nominal",
          "scale": {"domain": ["A", "B", "C", "D"], "range": [[1, 0], [11, 6], [1, 0], [11, 6]]}
        },
        "strokeWidth": {
          "field": "series", "type": "nominal",
          "scale": {"domain": ["A", "B", "C", "D"], "range": [4.5, 3.5, 4.5, 3.5]}
        }
      }
    },
    {
      "data": {"values": [{"edge": "right"}]},
      "mark": {"type": "rule", "color": "#8c8c8c", "strokeWidth": 1.5},
      "encoding": {
        "x": {"datum": {"year": 2001, "month": 10, "date": 1, "utc": true}, "type": "temporal"}
      }
    }
  ]
}
